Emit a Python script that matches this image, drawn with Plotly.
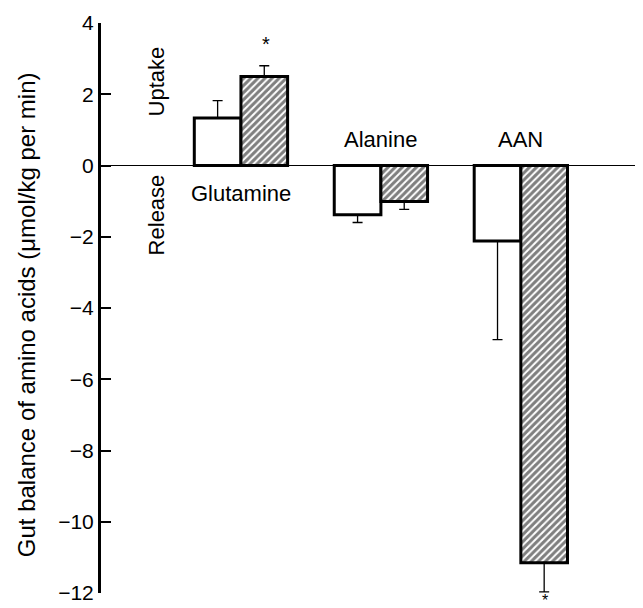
import plotly.graph_objects as go

amino_acids = ["Glutamine", "Alanine", "AAN"]
group_x = [1, 2, 3]
control_values = [1.33, -1.38, -2.12]
control_err = [0.49, 0.22, 2.77]
treated_values = [2.50, -1.01, -11.15]
treated_err = [0.30, 0.22, 0.82]
y_ticks = [-12, -10, -8, -6, -4, -2, 0, 2, 4]


def split_err(vals, errs):
    up = [e if v >= 0 else 0 for v, e in zip(vals, errs)]
    down = [e if v < 0 else 0 for v, e in zip(vals, errs)]
    return up, down


FONT = "Liberation Sans, Arial, Helvetica, sans-serif"

fig = go.Figure()
cu, cd = split_err(control_values, control_err)
tu, td = split_err(treated_values, treated_err)

fig.add_trace(go.Bar(
    x=group_x, y=control_values, name="Control",
    marker=dict(color="white", line=dict(color="black", width=3)),
    error_y=dict(type="data", symmetric=False, array=cu, arrayminus=cd,
                 color="black", thickness=1.3, width=5),
    showlegend=False,
))
fig.add_trace(go.Bar(
    x=group_x, y=treated_values, name="Treated",
    marker=dict(color="white", line=dict(color="black", width=3),
                pattern=dict(shape="/", fgcolor="black", bgcolor="white",
                             size=5, solidity=0.6)),
    error_y=dict(type="data", symmetric=False, array=tu, arrayminus=td,
                 color="black", thickness=1.3, width=5),
    showlegend=False,
))

ann = []
# category labels
ann.append(dict(x=group_x[0], y=-0.78, xref="x", yref="y", text=amino_acids[0],
                showarrow=False, font=dict(size=22)))
ann.append(dict(x=group_x[1], y=0.73, xref="x", yref="y", text=amino_acids[1],
                showarrow=False, font=dict(size=22)))
ann.append(dict(x=group_x[2], y=0.73, xref="x", yref="y", text=amino_acids[2],
                showarrow=False, font=dict(size=22)))
# significance stars
ann.append(dict(x=group_x[0] + 0.18, y=3.4, xref="x", yref="y", text="*",
                showarrow=False, font=dict(size=20)))
ann.append(dict(x=0.807, y=-0.0135, xref="paper", yref="paper", text="*",
                xanchor="center", yanchor="middle", borderpad=0,
                showarrow=False, font=dict(size=16)))
# Uptake / Release
ann.append(dict(x=0.393, y=2.36, xref="x", yref="y", text="Uptake", textangle=-90,
                showarrow=False, font=dict(size=22)))
ann.append(dict(x=0.393, y=-1.4, xref="x", yref="y", text="Release", textangle=-90,
                showarrow=False, font=dict(size=22)))
# y title
ann.append(dict(x=-0.136, y=0.4877, xref="paper", yref="paper",
                xanchor="center", yanchor="middle",
                text="Gut balance of amino acids (μmol/kg per min)", textangle=-90,
                showarrow=False, font=dict(size=24)))

fig.update_layout(
    width=643, height=608,
    margin=dict(l=93, r=0, t=15, b=23),
    paper_bgcolor="white", plot_bgcolor="white",
    barmode="group", bargap=1/3, bargroupgap=0,
    font=dict(family=FONT, color="black"),
    annotations=ann,
    xaxis=dict(range=[0, 3.93], visible=False),
    yaxis=dict(range=[-12, 4], tickvals=y_ticks, ticks="inside", ticklen=10,
               tickwidth=1.5, tickcolor="black", showline=True, linewidth=3,
               linecolor="black", showgrid=False, zeroline=True,
               zerolinecolor="black", zerolinewidth=1,
               tickfont=dict(size=21)),
)

fig.write_html("out.html")
